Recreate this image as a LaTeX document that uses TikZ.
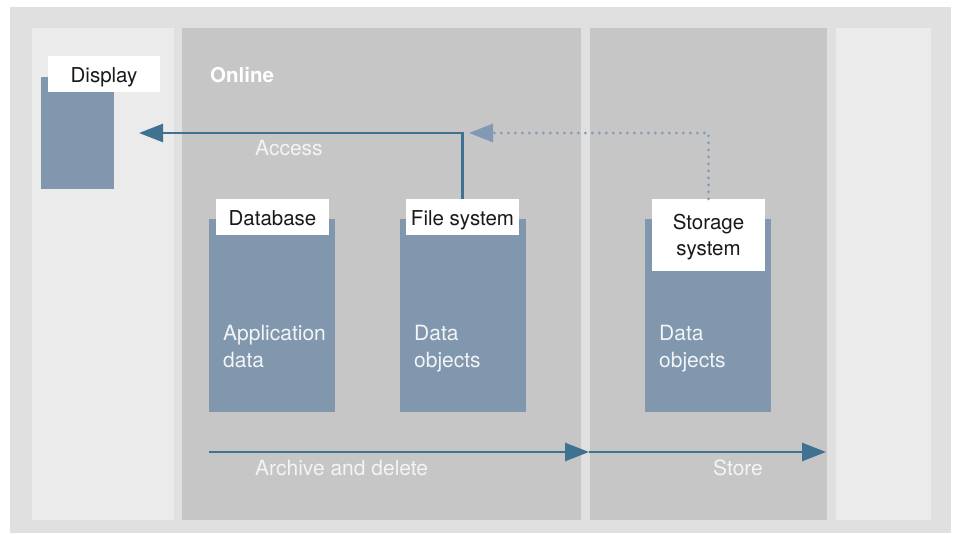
\documentclass[tikz,border=0pt]{standalone}
\usepackage{fontspec}
\setmainfont{TeX Gyre Heros}
\usetikzlibrary{arrows.meta}
\definecolor{outergray}{HTML}{DFE0DF}
\definecolor{lightpanel}{HTML}{EBEBEB}
\definecolor{midpanel}{HTML}{C5C6C5}
\definecolor{boxblue}{HTML}{8097AE}
\definecolor{arrowblue}{HTML}{3F7190}
\definecolor{dotblue}{HTML}{8199B3}
\definecolor{softwhite}{HTML}{F2F4F6}
\tikzset{
  panel/.style={fill=#1, draw=none, inner sep=0pt, anchor=center},
  bluebox/.style={fill=boxblue, draw=none, inner sep=0pt, minimum width=126pt, minimum height=193pt},
  labelbox/.style={fill=white, draw=none, inner sep=0pt, minimum width=113pt, minimum height=36pt,
    font=\fontsize{20.5}{26}\selectfont, text=black!90, align=center, text height=19pt, text depth=3pt},
  whitetext/.style={text=softwhite, inner sep=0pt, anchor=base west, align=left,
    font=\fontsize{21}{27}\selectfont},
  mainarrow/.style={draw=arrowblue, line width=2.6pt, -{Triangle[length=24pt,width=18pt]}},
  dotarrow/.style={draw=dotblue, line width=3pt, line cap=round, dash pattern=on 0pt off 7pt,
    -{Triangle[length=24pt,width=18pt,line cap=butt,sep=0pt]}}
}
\begin{document}
\begin{tikzpicture}[x=1pt,y=-1pt]
\useasboundingbox (0,0) rectangle (957,533);
\fill[white] (0,0) rectangle (957,533);
\fill[outergray] (10,7) rectangle (951,533);
% panels
\node[panel=lightpanel, minimum width=142pt, minimum height=492pt] (leftp) at (103,274) {};
\node[panel=midpanel, minimum width=399pt, minimum height=492pt] (online) at (381.5,274) {};
\node[panel=midpanel, minimum width=237pt, minimum height=492pt] (storep) at (708.5,274) {};
\node[panel=lightpanel, minimum width=95pt, minimum height=492pt] (rightp) at (883.5,274) {};
% display
\node[fill=boxblue, inner sep=0pt, minimum width=73pt, minimum height=112pt] (dispbox) at (77.5,133) {};
\node[labelbox, minimum width=112pt] (displabel) at (104,74) {Display};
% boxes
\node[bluebox] (dbbox) at (272,315.5) {};
\node[labelbox] (dblabel) at (272.5,217) {Database};
\node[bluebox] (fsbox) at (463,315.5) {};
\node[labelbox] (fslabel) at (462.5,217) {File system};
\node[bluebox] (ssbox) at (708,315.5) {};
\node[labelbox, minimum height=72pt, text height=43pt, text depth=3pt] (sslabel) at (708.5,235) {Storage\\system};
% texts
\node[whitetext, font=\fontsize{20.5}{27}\selectfont\bfseries, text=white] (onlinetxt) at (210,82) {Online};
\node[whitetext] (accesstxt) at (255,155) {Access};
\node[whitetext] (apptxt) at (223,367) {Application\\data};
\node[whitetext] (fstxt) at (414,367) {Data\\objects};
\node[whitetext] (sstxt) at (659,367) {Data\\objects};
\node[whitetext] (archtxt) at (255,475) {Archive and delete};
\node[whitetext] (storetxt) at (713,475) {Store};
% connectors
\coordinate (acctip) at (139,133);
\coordinate (dottip) at (469,133);
\coordinate (archstart) at (209,452);
\coordinate (archtip) at (589,452);
\coordinate (storetip) at (826,452);
\draw[mainarrow] (fslabel.north) |- (acctip);
\draw[dotarrow] (sslabel.north) |- (dottip);
\draw[mainarrow] (archstart) -- (archtip);
\draw[mainarrow] (archtip) -- (storetip);
\end{tikzpicture}
\end{document}
